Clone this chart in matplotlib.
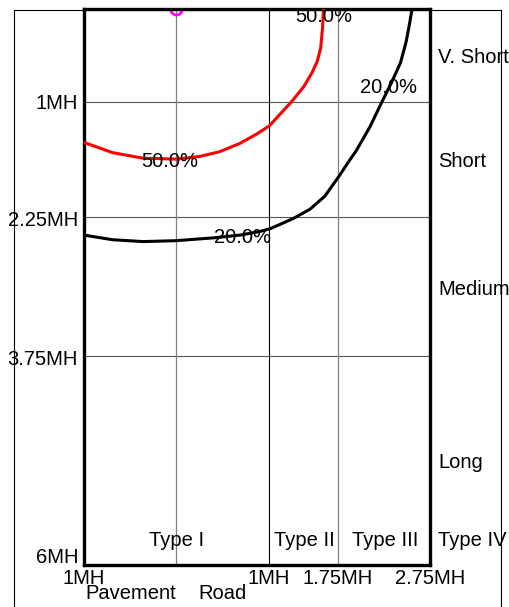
import matplotlib
matplotlib.use("Agg")
import matplotlib.pyplot as plt
from matplotlib.lines import Line2D

plt.rcParams['font.family'] = ['Liberation Sans', 'DejaVu Sans']

# 50% and 20% iso-lines (x: MH across road, y: MH along road, 0 at top)
red_x = [-1.0, -0.69, -0.36, 0.0, 0.26, 0.47, 0.69, 0.87, 1.01, 1.12, 1.25, 1.38, 1.47,
         1.53, 1.565, 1.585, 1.595]
red_y = [1.44, 1.55, 1.61, 1.62, 1.59, 1.54, 1.45, 1.35, 1.26, 1.14, 1.00, 0.84, 0.69,
         0.56, 0.42, 0.21, 0.0]
black_x = [-1.0, -0.69, -0.36, 0.0, 0.40, 0.69, 0.91, 1.02, 1.27, 1.45, 1.61, 1.76, 1.88,
           1.95, 2.10, 2.23, 2.33, 2.43, 2.49, 2.53, 2.555]
black_y = [2.44, 2.49, 2.51, 2.50, 2.47, 2.44, 2.40, 2.37, 2.26, 2.16, 2.02, 1.81, 1.63,
           1.53, 1.27, 1.00, 0.80, 0.58, 0.36, 0.15, 0.0]

y_ticks = [1, 2.25, 3.75]
y_tick_labels = ["1MH", "2.25MH", "3.75MH", "6MH"]
x_tick_pos = [-1, 1, 1.75, 2.75]
x_tick_labels = ["1MH", "1MH", "1.75MH", "2.75MH"]
range_labels = ["V. Short", "Short", "Medium", "Long"]
type_labels = ["Type I", "Type II", "Type III", "Type IV"]

fig = plt.figure(figsize=(5.10, 6.07), dpi=100)
ax = fig.add_axes([84 / 510, 1 - 565 / 607, 346 / 510, 556 / 607])
ax.set_xlim(-1, 2.75)
ax.set_ylim(6, 0)
ax.set_xticks([])
ax.set_yticks([])
for s in ax.spines.values():
    s.set_linewidth(2.4)

# grid
for y in y_ticks:
    ax.axhline(y, color='#555555', lw=0.8, zorder=1)
ax.axvline(0, color='#808080', lw=0.9, zorder=1)
ax.axvline(1, color='black', lw=0.8, zorder=1)
ax.axvline(1.75, color='#808080', lw=0.9, zorder=1)

# luminaire position
ax.plot([0], [0], 'o', mfc='none', mec='magenta', ms=8, mew=2, zorder=2)

ax.plot(red_x, red_y, color='red', lw=2.2, zorder=3, solid_joinstyle='round')
ax.plot(black_x, black_y, color='black', lw=2.2, zorder=3, solid_joinstyle='round')

fs = 14.5
ax.text(-0.07, 1.705, "50.0%", fontsize=fs, ha='center', va='baseline', zorder=4)
ax.text(1.60, 0.14, "50.0%", fontsize=fs, ha='center', va='baseline', zorder=4, clip_on=True)
ax.text(2.30, 0.906, "20.0%", fontsize=fs, ha='center', va='baseline', zorder=4)
ax.text(0.72, 2.525, "20.0%", fontsize=fs, ha='center', va='baseline', zorder=4)

# left labels
for y, lab in zip([1.079, 2.342, 3.842, 5.978], y_tick_labels):
    ax.text(-1.065, y, lab, fontsize=fs, ha='right', va='baseline', clip_on=False)

# bottom labels
for x, lab in zip(x_tick_pos, x_tick_labels):
    ax.text(x, 6.20, lab, fontsize=fs, ha='center', va='baseline', clip_on=False)
ax.text(-0.99, 6.367, "Pavement", fontsize=fs, ha='left', va='baseline', clip_on=False)
ax.text(0.50, 6.367, "Road", fontsize=fs, ha='center', va='baseline', clip_on=False)

# right side range labels
for y, lab in zip([0.583, 1.705, 3.086, 4.953], range_labels):
    ax.text(2.836, y, lab, fontsize=fs, ha='left', va='baseline', clip_on=False)

# type labels
for x, lab in zip([0.0, 1.39, 2.26], type_labels[:3]):
    ax.text(x, 5.80, lab, fontsize=fs, ha='center', va='baseline', clip_on=False)
ax.text(2.836, 5.80, type_labels[3], fontsize=fs, ha='left', va='baseline', clip_on=False)

# outer thin frame
fl, fr, ft = 14 / 510, 501 / 510, 1 - 9.5 / 607
fig.add_artist(Line2D([fl, fl], [0, ft], color='black', lw=0.8))
fig.add_artist(Line2D([fr, fr], [0, ft], color='black', lw=0.8))
fig.add_artist(Line2D([fl, fr], [ft, ft], color='black', lw=0.8))

fig.savefig("out.png", dpi=100)
